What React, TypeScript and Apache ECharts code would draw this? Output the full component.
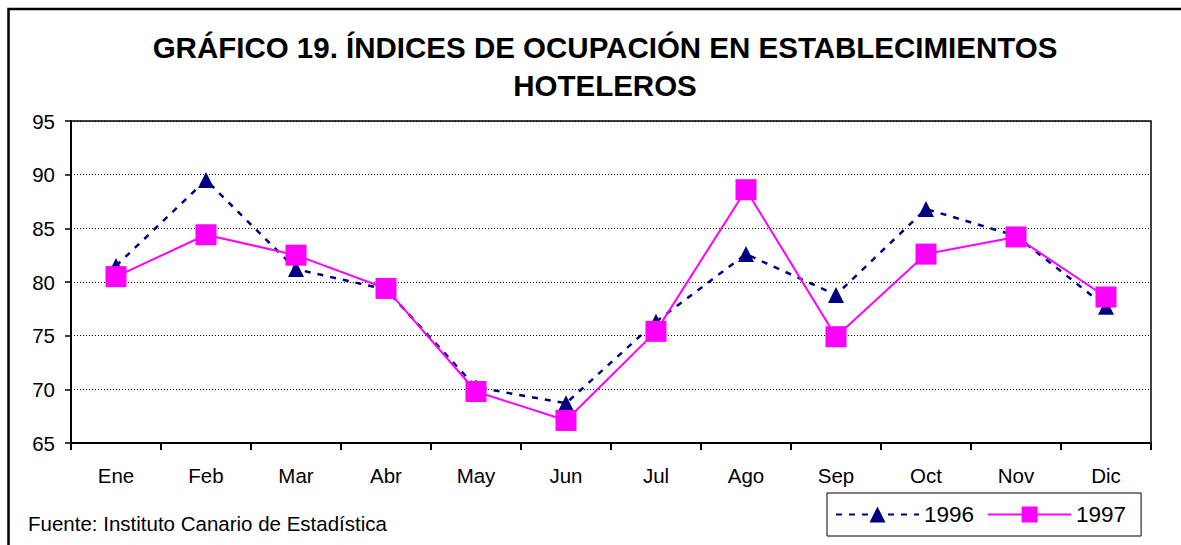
import React, { useEffect, useRef } from "react";
import * as echarts from "echarts";

const months = ["Ene", "Feb", "Mar", "Abr", "May", "Jun", "Jul", "Ago", "Sep", "Oct", "Nov", "Dic"];
const series1996 = [81.5, 89.5, 81.2, 79.3, 70.2, 68.7, 76.3, 82.6, 78.8, 86.8, 84.3, 77.7];
const series1997 = [80.5, 84.4, 82.5, 79.4, 69.8, 67.1, 75.4, 88.6, 74.9, 82.6, 84.2, 78.6];
const titleLines = ["GRÁFICO 19. ÍNDICES DE OCUPACIÓN EN ESTABLECIMIENTOS", "HOTELEROS"];
const sourceText = "Fuente: Instituto Canario de Estadística";

const FONT = "'Liberation Sans', Arial, Helvetica, sans-serif";

export default function App() {
  const ref = useRef<HTMLDivElement>(null);
  useEffect(() => {
    const chart = echarts.init(ref.current!, undefined, { renderer: "svg" });
    chart.setOption({
      animation: false,
      backgroundColor: "#fff",
      title: {
        text: titleLines.join("\n"),
        left: 600,
        top: 23,
        textAlign: "center",
        textStyle: { fontFamily: FONT, fontSize: 29.5, fontWeight: "bold", color: "#000", lineHeight: 38 },
      },
      grid: { left: 71, top: 121, width: 1080, height: 322, show: true, borderColor: "#000", borderWidth: 1.5, backgroundColor: "transparent" },
      legend: {
        left: 827,
        top: 493,
        orient: "horizontal",
        itemWidth: 83,
        itemHeight: 20,
        itemGap: 13,
        padding: [10, 15, 10, 8],
        borderColor: "#000",
        borderWidth: 1,
        textStyle: { fontFamily: FONT, fontSize: 22.5, color: "#000" },
        data: ["1996", "1997"],
      },
      xAxis: {
        type: "category",
        data: months,
        boundaryGap: true,
        axisLine: { lineStyle: { color: "#000", width: 2 } },
        axisTick: { show: true, interval: 0, length: 7, lineStyle: { color: "#000", width: 2 } },
        axisLabel: { fontFamily: FONT, fontSize: 20.5, color: "#000", margin: 22, interval: 0 },
        splitLine: { show: false },
      },
      yAxis: {
        type: "value",
        min: 65,
        max: 95,
        interval: 5,
        axisLine: { show: true, lineStyle: { color: "#000", width: 2 } },
        axisTick: { show: true, length: 6, lineStyle: { color: "#000", width: 1.5 } },
        axisLabel: { fontFamily: FONT, fontSize: 20.5, color: "#000", margin: 16 },
        splitLine: { show: true, lineStyle: { color: "#000", width: 1, type: [1, 2] } },
      },
      series: [
        {
          name: "1996",
          type: "line",
          data: series1996,
          symbol: "triangle",
          symbolSize: 16,
          lineStyle: { color: "#000080", width: 2.5, type: [6, 7] },
          itemStyle: { color: "#000080" },
          z: 2,
        },
        {
          name: "1997",
          type: "line",
          data: series1997,
          symbol: "rect",
          symbolSize: 21,
          lineStyle: { color: "#FF00FF", width: 2 },
          itemStyle: { color: "#FF00FF" },
          z: 3,
        },
      ],
      graphic: [
        {
          type: "rect",
          shape: { x: 8.5, y: 9, width: 1400, height: 700 },
          style: { fill: "none", stroke: "#000", lineWidth: 2.5 },
          silent: true,
        },
        {
          type: "text",
          x: 28,
          y: 523,
          style: { text: sourceText, font: `20.5px ${FONT}`, fill: "#000", textVerticalAlign: "middle" },
        },
      ],
    });
    return () => chart.dispose();
  }, []);
  return <div ref={ref} style={{ position: "absolute", left: 0, top: 0, width: 1181, height: 545 }} />;
}
